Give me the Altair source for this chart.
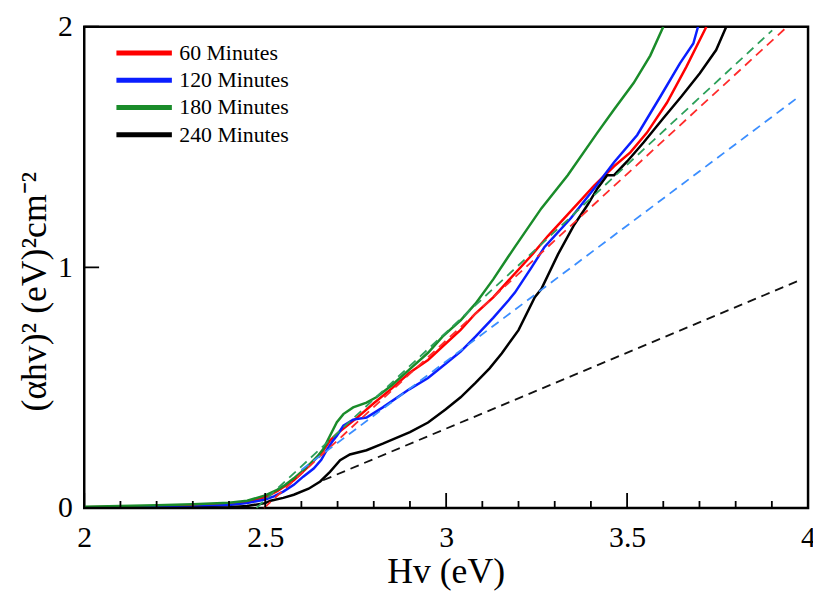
import altair as alt
import pandas as pd

# ---- data ----
series_names = ["60 Minutes", "120 Minutes", "180 Minutes", "240 Minutes"]
series_colors = ["#ff0000", "#0a1eff", "#1a8c2a", "#000000"]

x60 = [2.0, 2.2, 2.3, 2.4, 2.45, 2.5, 2.533, 2.579, 2.625, 2.661, 2.679, 2.70, 2.75, 2.8, 2.85,
       2.898, 2.95, 2.99, 3.04, 3.081, 3.13, 3.172, 3.236, 3.281, 3.373, 3.409, 3.464, 3.509,
       3.555, 3.61, 3.664, 3.719]
y60 = [0.003, 0.007, 0.010, 0.016, 0.024, 0.045, 0.070, 0.115, 0.180, 0.240, 0.280, 0.310, 0.370,
       0.435, 0.497, 0.561, 0.615, 0.671, 0.740, 0.808, 0.875, 0.945, 1.050, 1.130, 1.280, 1.340,
       1.420, 1.478, 1.560, 1.684, 1.834, 2.000]

x120 = [2.0, 2.2, 2.3, 2.4, 2.45, 2.5, 2.524, 2.55, 2.579, 2.605, 2.634, 2.655, 2.67, 2.685, 2.698,
        2.716, 2.743, 2.78, 2.825, 2.898, 2.95, 2.99, 3.04, 3.081, 3.13, 3.172, 3.19, 3.236, 3.272,
        3.345, 3.409, 3.464, 3.528, 3.592, 3.646, 3.683, 3.696]
y120 = [0.000, 0.003, 0.005, 0.012, 0.020, 0.035, 0.048, 0.068, 0.096, 0.130, 0.164, 0.200, 0.240,
        0.275, 0.300, 0.342, 0.367, 0.376, 0.418, 0.493, 0.540, 0.589, 0.650, 0.712, 0.790, 0.862,
        0.895, 1.000, 1.085, 1.205, 1.328, 1.437, 1.550, 1.710, 1.848, 1.930, 2.000]

x180 = [2.0, 2.1, 2.2, 2.3, 2.4, 2.45, 2.5, 2.533, 2.555, 2.579, 2.6, 2.625, 2.645, 2.661, 2.679,
        2.698, 2.716, 2.743, 2.78, 2.807, 2.85, 2.898, 2.95, 2.99, 3.04, 3.081, 3.13, 3.172, 3.19,
        3.263, 3.336, 3.418, 3.464, 3.518, 3.564, 3.6]
y180 = [0.005, 0.008, 0.011, 0.015, 0.022, 0.030, 0.052, 0.075, 0.095, 0.123, 0.150, 0.185, 0.215,
        0.246, 0.300, 0.356, 0.390, 0.418, 0.438, 0.460, 0.510, 0.575, 0.645, 0.712, 0.780, 0.849,
        0.950, 1.045, 1.085, 1.245, 1.383, 1.560, 1.656, 1.766, 1.880, 2.000]

x240 = [2.0, 2.2, 2.3, 2.4, 2.45, 2.5, 2.515, 2.55, 2.579, 2.62, 2.652, 2.679, 2.707, 2.734, 2.78,
        2.825, 2.9, 2.95, 2.999, 3.04, 3.081, 3.12, 3.154, 3.2, 3.245, 3.263, 3.309, 3.354, 3.391,
        3.418, 3.445, 3.464, 3.5, 3.546, 3.6, 3.65, 3.701, 3.746, 3.774]
y240 = [0.000, 0.000, 0.001, 0.003, 0.008, 0.020, 0.030, 0.042, 0.055, 0.080, 0.110, 0.150, 0.198,
        0.222, 0.240, 0.267, 0.315, 0.355, 0.410, 0.460, 0.520, 0.580, 0.643, 0.739, 0.876, 0.910,
        1.054, 1.177, 1.260, 1.328, 1.383, 1.383, 1.440, 1.520, 1.620, 1.710, 1.807, 1.903, 2.000]

# linear fit (dashed) lines: start and end points
fit_names = ["fit 60", "fit 120", "fit 180", "fit 240"]
fit_colors = ["#ff2a2a", "#3b8eff", "#2ca05a", "#111111"]
fit_x0 = [2.497, 2.60, 2.476, 2.66]
fit_y0 = [0.0, 0.158, 0.0, 0.115]
fit_x1 = [3.935, 3.97, 3.901, 3.975]
fit_y1 = [1.990, 1.704, 1.985, 0.945]

x_major_ticks = [2, 2.5, 3, 3.5, 4]
x_minor_ticks = [2.1, 2.2, 2.3, 2.4, 2.6, 2.7, 2.8, 2.9, 3.1, 3.2, 3.3, 3.4, 3.6, 3.7, 3.8, 3.9]
y_major_ticks = [0, 1, 2]

# ---- build tables ----
FONT = "Liberation Serif"
W, H = 731, 486
XDOM, YDOM = [2, 4], [0, 2]
MAJOR, MINOR = 15, 7                      # tick lengths (px)
PX_X = (XDOM[1] - XDOM[0]) / W            # data units per px
PX_Y = (YDOM[1] - YDOM[0]) / H

rows = []
for name, xs_, ys_ in zip(series_names, [x60, x120, x180, x240], [y60, y120, y180, y240]):
    for i, (a, b) in enumerate(zip(xs_, ys_)):
        rows.append({"series": name, "x": a, "y": b, "order": i})
solid = pd.DataFrame(rows)

# dashed fits and inward tick segments share one line layer
grows = []
for n, a0, b0, a1, b1 in zip(fit_names, fit_x0, fit_y0, fit_x1, fit_y1):
    grows.append({"id": n, "kind": n, "x": a0, "y": b0, "o": 0})
    grows.append({"id": n, "kind": n, "x": a1, "y": b1, "o": 1})
for v in x_major_ticks:
    grows += [{"id": f"xM{v}", "kind": "tick", "x": v, "y": YDOM[0], "o": 0},
              {"id": f"xM{v}", "kind": "tick", "x": v, "y": YDOM[0] + MAJOR * PX_Y, "o": 1}]
for v in x_minor_ticks:
    grows += [{"id": f"xm{v}", "kind": "tick", "x": v, "y": YDOM[0], "o": 0},
              {"id": f"xm{v}", "kind": "tick", "x": v, "y": YDOM[0] + MINOR * PX_Y, "o": 1}]
for v in y_major_ticks:
    grows += [{"id": f"yM{v}", "kind": "tick", "x": XDOM[0], "y": v, "o": 0},
              {"id": f"yM{v}", "kind": "tick", "x": XDOM[0] + MAJOR * PX_X, "y": v, "o": 1}]
guides = pd.DataFrame(grows)

kinds = fit_names + ["tick"]
kind_colors = fit_colors + ["#000000"]
kind_dash = [[9, 6]] * len(fit_names) + [[1, 0]]
kind_width = [1.8] * len(fit_names) + [2.2]


def xs():
    return alt.Scale(domain=XDOM, nice=False, zero=False)


def ys():
    return alt.Scale(domain=YDOM, nice=False, zero=False)


solid_layer = alt.Chart(solid).mark_line(strokeWidth=2.5, clip=True).encode(
    x=alt.X("x:Q", scale=xs(), title="Hv (eV)",
            axis=alt.Axis(orient="bottom", values=x_major_ticks, ticks=False, tickSize=0,
                          domain=False, grid=False, format="~g",
                          labelFont=FONT, labelFontSize=30, labelColor="black",
                          labelPadding=15, labelFlush=False, labelOverlap=False,
                          titleFont=FONT, titleFontSize=36, titleFontWeight="normal",
                          titleColor="black", titleX=365, titleY=75,
                          titleBaseline="alphabetic", titleAlign="center")),
    y=alt.Y("y:Q", scale=ys(), title="(αhv)² (eV)²cm⁻²",
            axis=alt.Axis(orient="left", values=y_major_ticks, ticks=False, tickSize=0,
                          domain=False, grid=False, format="~g",
                          labelFont=FONT, labelFontSize=30, labelColor="black",
                          labelPadding=12, labelFlush=False, labelOverlap=False,
                          titleFont=FONT, titleFontSize=36, titleFontWeight="normal",
                          titleColor="black", titleAngle=270, titleX=-50, titleY=267,
                          titleBaseline="middle", titleAlign="center")),
    color=alt.Color("series:N", scale=alt.Scale(domain=series_names, range=series_colors),
                    legend=alt.Legend(title=None, orient="none", legendX=20, legendY=14,
                                      padding=0, symbolType="M0,0H5.6", symbolSize=400,
                                      symbolStrokeWidth=5, labelFont=FONT, labelFontSize=22,
                                      labelColor="black", labelOffset=51, rowPadding=3.5)),
    order="order:Q",
)

guide_layer = alt.Chart(guides).mark_line(clip=False).encode(
    x=alt.X("x:Q", scale=xs(), axis=None),
    y=alt.Y("y:Q", scale=ys(), axis=None),
    color=alt.Color("kind:N", scale=alt.Scale(domain=kinds, range=kind_colors), legend=None),
    strokeDash=alt.StrokeDash("kind:N", scale=alt.Scale(domain=kinds, range=kind_dash),
                              legend=None),
    strokeWidth=alt.StrokeWidth("kind:N", scale=alt.Scale(domain=kinds, range=kind_width),
                                legend=None),
    detail="id:N",
    order="o:Q",
)

chart = alt.layer(solid_layer, guide_layer).resolve_scale(
    color="independent", x="independent", y="independent"
).resolve_axis(x="independent", y="independent").properties(
    width=W, height=H,
    padding={"left": 77, "top": 16, "right": 5, "bottom": 84},
    autosize=alt.AutoSizeParams(type="none"),
).configure_view(
    stroke="black", strokeWidth=2.5
)

chart.save("out.html", embed_options={"renderer": "svg", "actions": False})
